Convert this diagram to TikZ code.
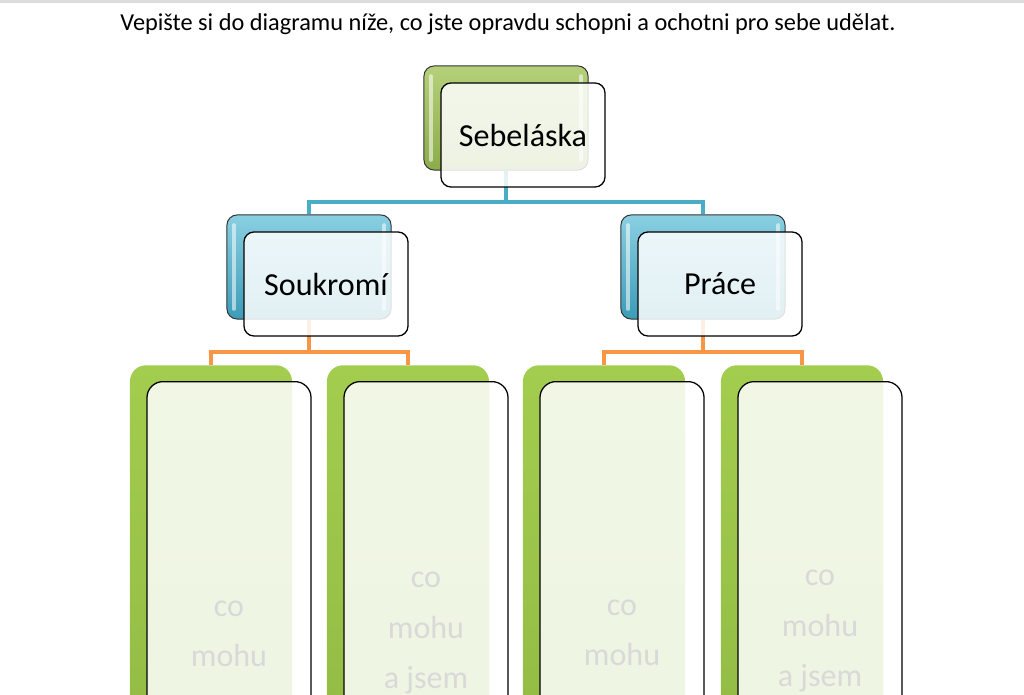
\documentclass[tikz,border=0pt]{standalone}
\usepackage{fontspec}
\setmainfont{Carlito}
\definecolor{olivetop}{HTML}{B5D07A}
\definecolor{olivebot}{HTML}{8CAC4A}
\definecolor{leaftop}{HTML}{A3CD4E}
\definecolor{leafbot}{HTML}{8DB542}
\definecolor{skytop}{HTML}{8ACFE1}
\definecolor{skybot}{HTML}{3C9CB7}
\definecolor{linkblue}{HTML}{4BACC6}
\definecolor{linkorange}{HTML}{F79646}
\definecolor{hintgray}{HTML}{D9D9D9}
\tikzset{
  hilite/.style={path picture={
    \draw[white, opacity=0.55, line width=2.5pt, line cap=round]
      ([xshift=0.17cm,yshift=-0.25cm]path picture bounding box.north west) -- ([xshift=0.17cm,yshift=0.25cm]path picture bounding box.south west)
      ([xshift=-0.17cm,yshift=-0.25cm]path picture bounding box.north east) -- ([xshift=-0.17cm,yshift=0.25cm]path picture bounding box.south east);}},
  backbox/.style={rectangle, rounded corners=0.25cm, minimum width=4.1cm, minimum height=2.6cm,
    draw=black!80, line width=0.7pt, hilite},
  frontbox/.style={rectangle, rounded corners=0.25cm, minimum width=4.1cm, minimum height=2.6cm,
    draw=black, line width=0.9pt, fill=white, fill opacity=0.85, text opacity=1,
    font=\fontsize{22.8pt}{27pt}\selectfont},
  leafback/.style={rectangle, rounded corners=0.4cm, minimum width=4.05cm, minimum height=12.5cm,
    top color=leaftop, bottom color=leafbot, anchor=north},
  leaffront/.style={rectangle, rounded corners=0.4cm, minimum width=4.1cm, minimum height=12.5cm,
    draw=black, line width=0.9pt, fill=white, fill opacity=0.85, anchor=north},
  leaftext/.style={text=hintgray, align=center, font=\fontsize{22.8pt}{35.6pt}\selectfont}
}
\begin{document}
\begin{tikzpicture}[x=0.025cm, y=-0.025cm]
\useasboundingbox (0,0) rectangle (1024,695);
\clip (0,0) rectangle (1024,695);
\fill[black!14] (0,0) rectangle (1024,3);

\node[font=\fontsize{17.3pt}{20pt}\selectfont] (title) at (508,24)
  {Vepište si do diagramu níže, co jste opravdu schopni a ochotni pro sebe udělat.};

\begin{scope}[every node/.style={backbox}]
    \node[top color=olivetop, bottom color=olivebot] (sebeB) at (506,118) {};
    \node[top color=skytop, bottom color=skybot] (soukB) at (309,267) {};
    \node[top color=skytop, bottom color=skybot] (praceB) at (703,267) {};
\end{scope}

\begin{scope}[every node/.style={leafback}]
    \node (l1B) at (211,365) {};
    \node (l2B) at (408,365) {};
    \node (l3B) at (604,365) {};
    \node (l4B) at (802,365) {};
\end{scope}

\coordinate (jtop) at (506,202);
\coordinate (jleft) at (309,352);
\coordinate (jright) at (703,352);

\begin{scope}[linkblue, line width=2.6pt]
    \draw (sebeB.south) -- (jtop) -| (soukB.north);
    \draw (jtop) -| (praceB.north);
\end{scope}

\begin{scope}[linkorange, line width=2.6pt]
    \draw (soukB.south) -- (jleft) -| (l1B.north);
    \draw (jleft) -| (l2B.north);
    \draw (praceB.south) -- (jright) -| (l3B.north);
    \draw (jright) -| (l4B.north);
\end{scope}

\begin{scope}[every node/.style={frontbox}]
    \node (sebe) at (523,135) {Sebeláska};
    \node (souk) at (326,284) {Soukromí};
    \node (prace) at (720,284) {Práce};
\end{scope}

\begin{scope}[every node/.style={leaffront}]
    \node (l1) at (229,381) {};
    \node (l2) at (426,381) {};
    \node (l3) at (622,381) {};
    \node (l4) at (820,381) {};
\end{scope}

\begin{scope}[every node/.style={leaftext}]
    \node (t1) at (229,634) {co\\mohu};
    \node (t2) at (426,633) {co\\mohu\\a jsem};
    \node (t3) at (622,633) {co\\mohu};
    \node (t4) at (820,631) {co\\mohu\\a jsem};
\end{scope}
\end{tikzpicture}
\end{document}
